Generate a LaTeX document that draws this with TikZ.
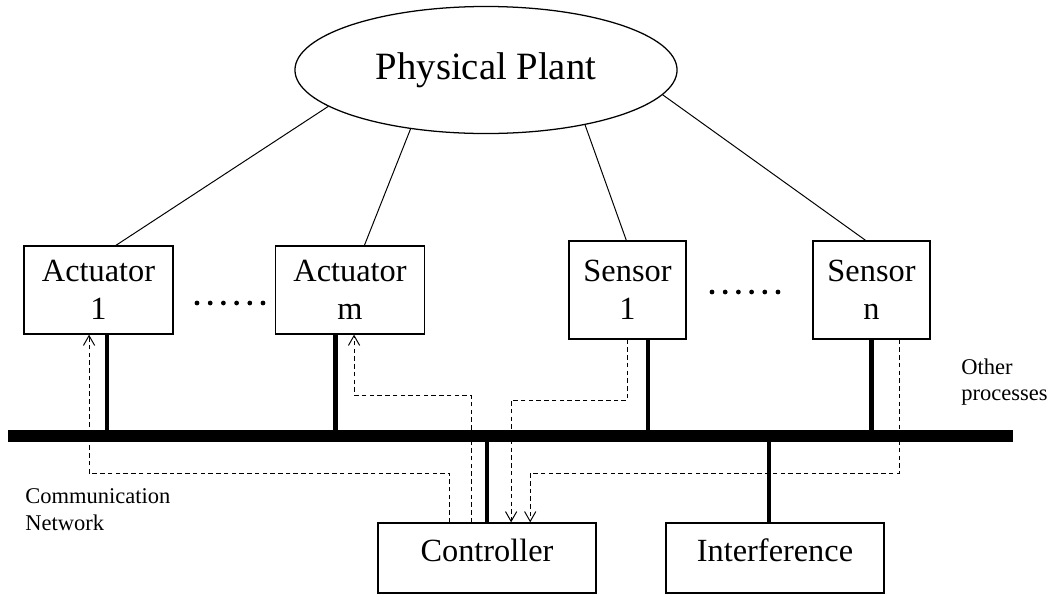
\documentclass[tikz,border=0pt]{standalone}
\usepackage{fontspec}
\setmainfont{Liberation Serif}
\usetikzlibrary{arrows.meta, calc, shapes.geometric}

\begin{document}
\begin{tikzpicture}[
    x=0.025cm, y=-0.025cm,
    plant/.style={ellipse, draw, line width=0.9pt, minimum width=9.55cm, minimum height=3.175cm,
                  inner sep=0pt, font=\fontsize{27.5}{33}\selectfont},
    unit/.style={draw, line width=0.9pt, inner sep=0pt, align=center,
                 font=\fontsize{23}{27}\selectfont},
    actbox/.style={unit, minimum width=3.72cm, minimum height=2.2cm},
    senbox/.style={unit, minimum width=2.925cm, minimum height=2.45cm},
    ctlbox/.style={unit, minimum width=5.45cm, minimum height=1.75cm, text depth=11pt},
    wire/.style={line width=0.7pt},
    tap/.style={line width=3pt},
    bus/.style={line width=8.5pt},
    sig/.style={line width=0.7pt, dash pattern=on 3.2pt off 2.3pt,
                -{Straight Barb[length=7pt, width=8pt]}},
    note/.style={font=\fontsize{16}{19}\selectfont, align=left, anchor=west, inner sep=0pt},
  ]
  \useasboundingbox (0,0) rectangle (1051,594);

  % ── Plant ──
  \node[plant] (plant) at (486,70) {Physical Plant};

  % ── Actuators and sensors ──
  \node[actbox] (act1) at (98.5,290) {Actuator\\1};
  \node[actbox] (actm) at (350,290) {Actuator\\m};
  \node[senbox] (sens1) at (627.5,290) {Sensor\\1};
  \node[senbox] (sensn) at (871.5,290) {Sensor\\n};

  \foreach \i in {0,...,5} {
    \fill (197+13.2*\i,303) circle (1.7pt);
    \fill (712+13.2*\i,292) circle (1.7pt);
  }

  % ── Controller / interference ──
  \node[ctlbox] (ctrl) at (487,558) {Controller};
  \node[ctlbox] (interf) at (775,558) {Interference};

  % ── Labels ──
  \node[note] (other) at (961,382) {Other\\processes};
  \node[note] (comm) at (25,510) {Communication\\Network};

  % ── Plant links ──
  \draw[wire] (plant.193.7) -- ($(act1.north west)!0.616!(act1.north east)$);
  \draw[wire] (plant.218.1) -- ($(actm.north west)!0.596!(actm.north east)$);
  \draw[wire] (plant.331) -- ($(sens1.north west)!0.49!(sens1.north east)$);
  \draw[wire] (plant.352.9) -- ($(sensn.north west)!0.45!(sensn.north east)$);

  % ── Network ──
  \coordinate (busW) at (8,436);
  \coordinate (busE) at (1013,436);

  \draw[tap] ($(act1.south west)!0.556!(act1.south east)$) coordinate (t1) -- (t1 |- busW);
  \draw[tap] ($(actm.south west)!0.404!(actm.south east)$) coordinate (t2) -- (t2 |- busW);
  \draw[tap] ($(sens1.south west)!0.675!(sens1.south east)$) coordinate (t3) -- (t3 |- busW);
  \draw[tap] (sensn.south) -- (sensn.south |- busW);
  \draw[tap] (ctrl.north) -- (ctrl.north |- busW);
  \draw[tap] ($(interf.north west)!0.472!(interf.north east)$) coordinate (t6) -- (t6 |- busW);

  \draw[bus] (busW) -- (busE);

  % ── Signal paths ──
  \coordinate (lowrun) at (0,473);
  \coordinate (actrun) at (0,395);
  \coordinate (senrun) at (0,400);

  \draw[sig] ($(ctrl.north west)!0.33!(ctrl.north east)$) coordinate (c1)
    -- (c1 |- lowrun) -| ($(act1.south west)!0.437!(act1.south east)$);
  \draw[sig] ($(ctrl.north west)!0.427!(ctrl.north east)$) coordinate (c2)
    -- (c2 |- actrun) -| ($(actm.south west)!0.527!(actm.south east)$);
  \draw[sig] (sens1.south) -- (sens1.south |- senrun)
    -| ($(ctrl.north west)!0.61!(ctrl.north east)$);
  \draw[sig] ($(sensn.south west)!0.735!(sensn.south east)$) coordinate (s2)
    -- (s2 |- lowrun) -| ($(ctrl.north west)!0.697!(ctrl.north east)$);

\end{tikzpicture}
\end{document}
